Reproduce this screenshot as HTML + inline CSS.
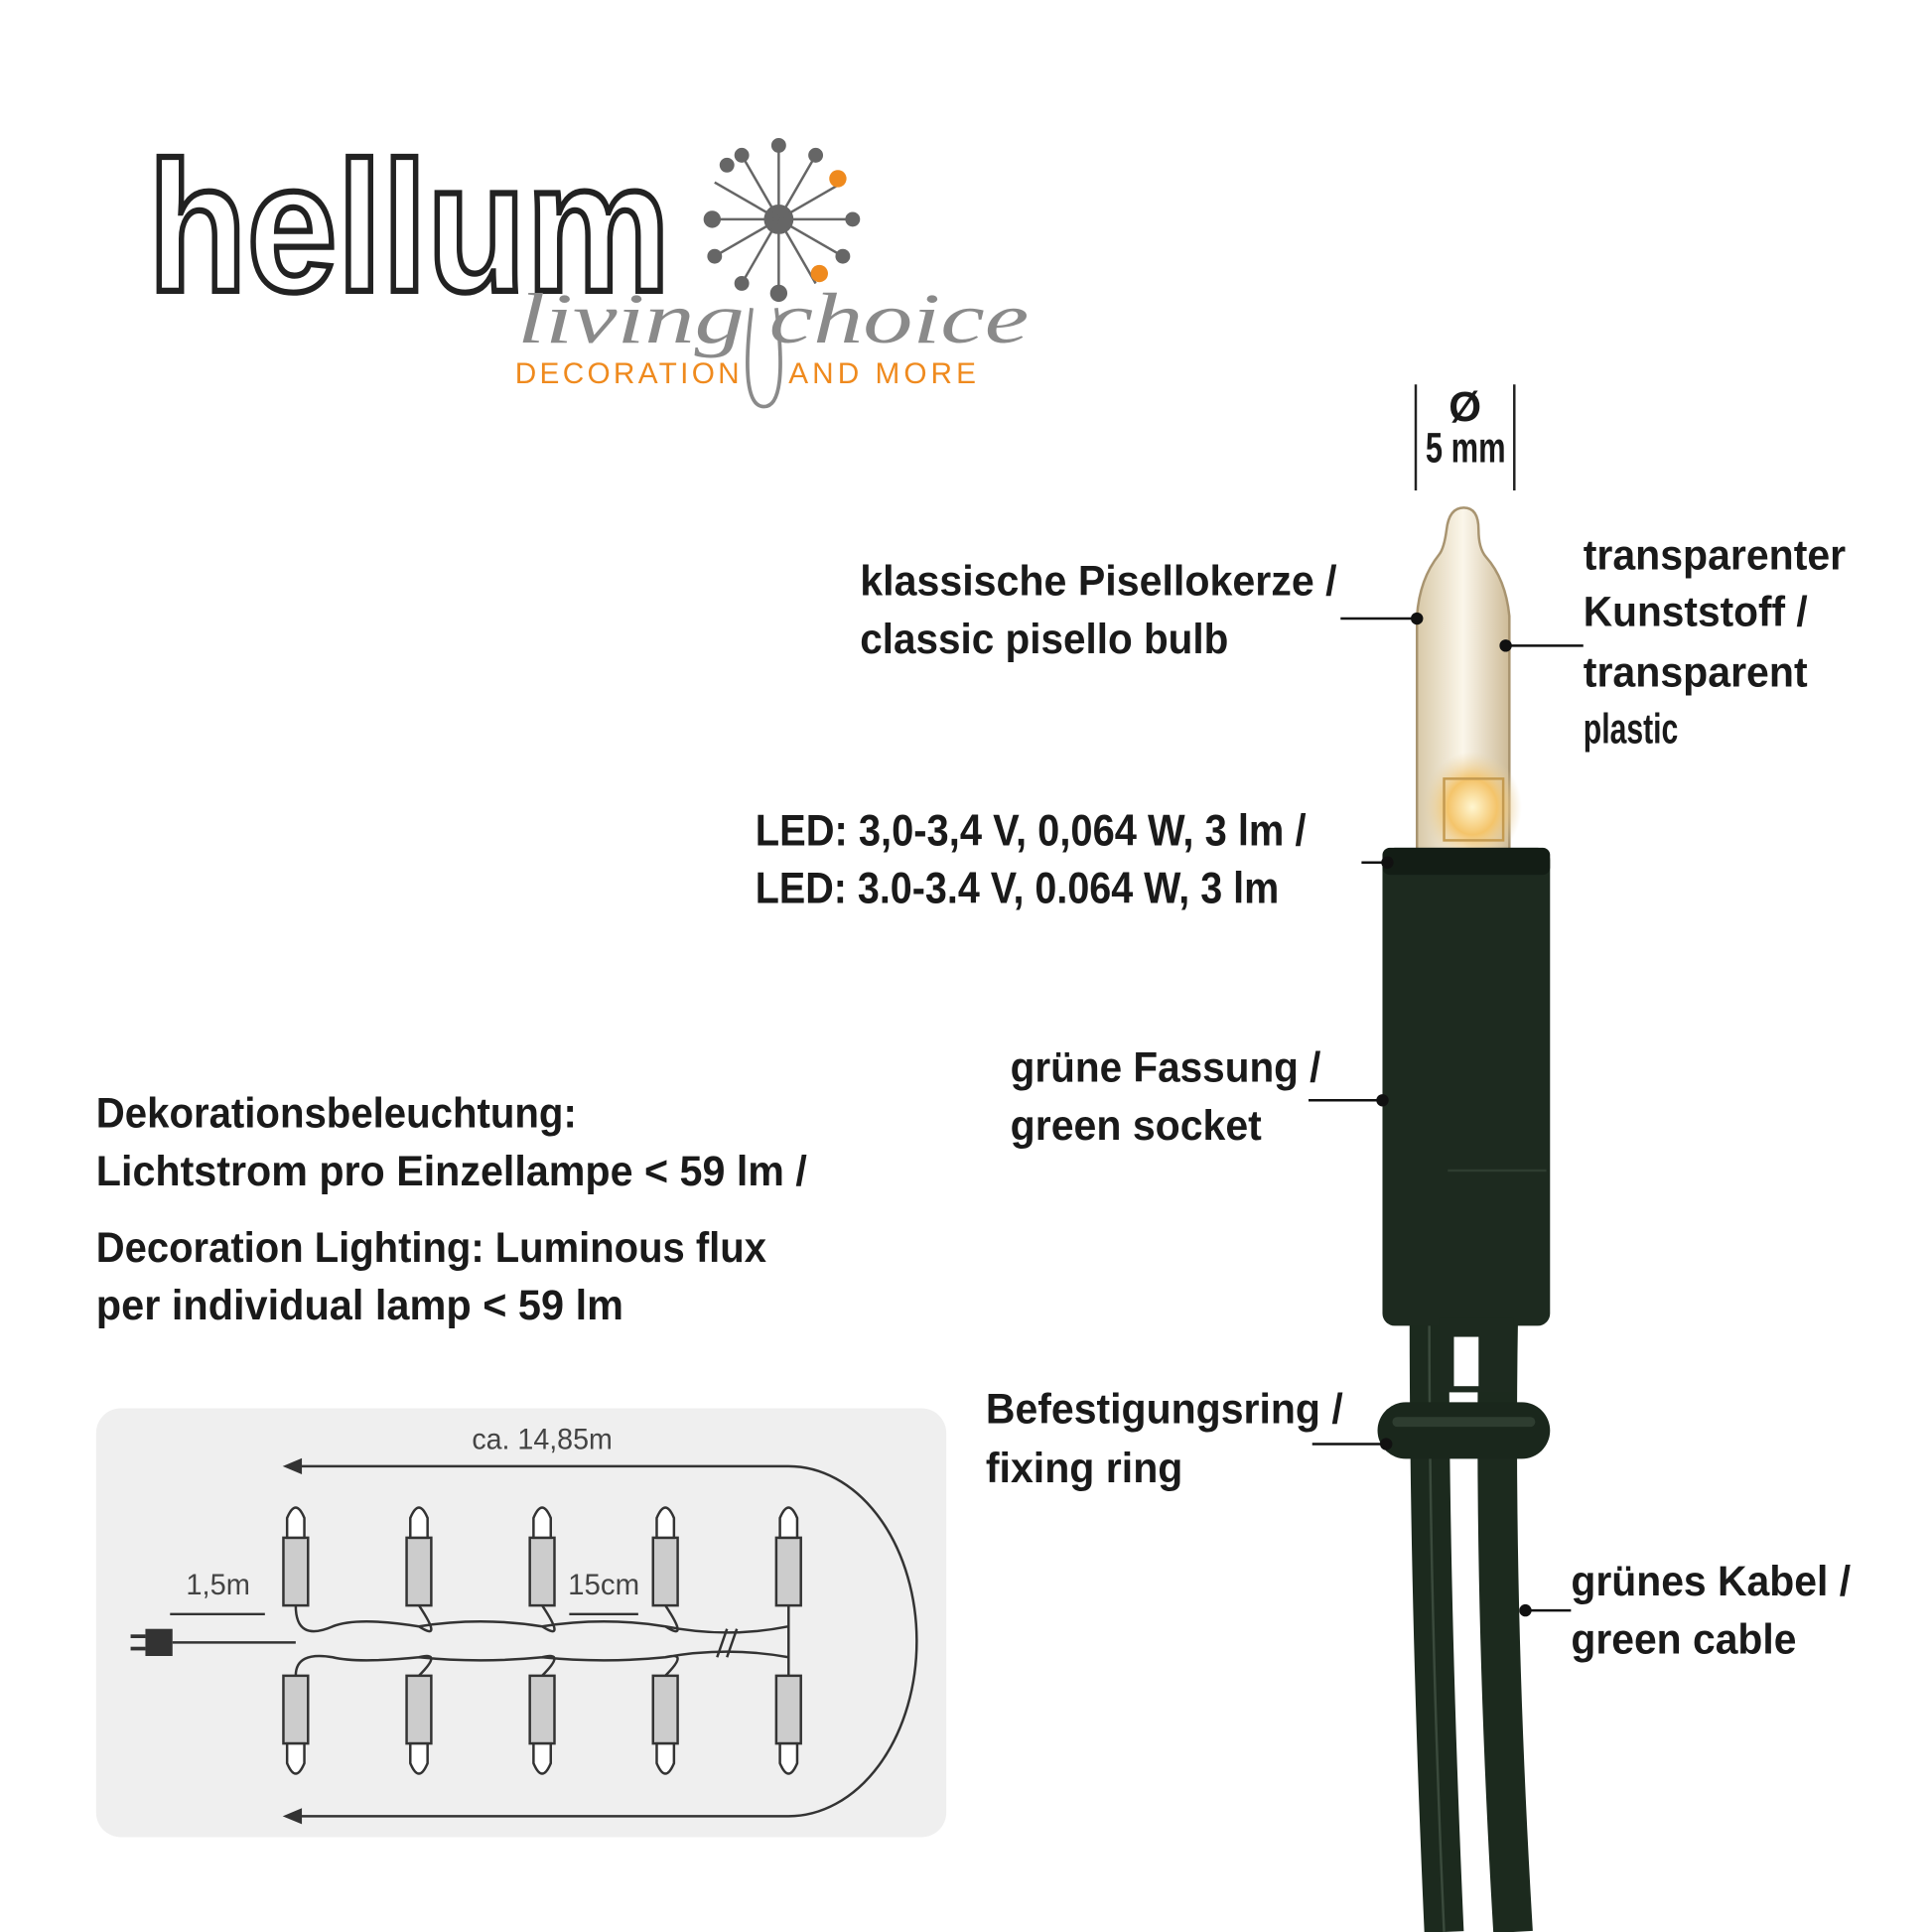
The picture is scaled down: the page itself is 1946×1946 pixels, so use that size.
<!DOCTYPE html>
<html><head><meta charset="utf-8"><style>
html,body{margin:0;padding:0;background:#fff;}
svg{display:block}
.t{font-family:"Liberation Sans Narrow","Liberation Sans",sans-serif;font-weight:bold;fill:#1a1a1a;font-size:34px}
.s{font-family:"Liberation Sans Narrow","Liberation Sans",sans-serif;fill:#444;font-size:24px}
</style></head><body>
<svg width="1946" height="1946" viewBox="0 0 1568 1568" xmlns="http://www.w3.org/2000/svg">
<defs>
<linearGradient id="g" x1="0" x2="1"><stop offset="0" stop-color="#d8c9a8"/><stop offset=".5" stop-color="#fbf6ea"/><stop offset="1" stop-color="#cdbb98"/></linearGradient>
<radialGradient id="glow" cx=".5" cy=".5" r=".5"><stop offset="0" stop-color="#fff6d0"/><stop offset=".5" stop-color="#f4c46a"/><stop offset="1" stop-color="#e8d3a8" stop-opacity="0"/></radialGradient>
</defs>
<!-- logo -->
<text x="120" y="236" font-family="Liberation Sans" font-weight="bold" font-size="150" fill="#fff" stroke="#222" stroke-width="5" textLength="424" lengthAdjust="spacingAndGlyphs">hellum</text>
<text x="420" y="278" font-family="Liberation Serif" font-style="italic" font-size="58" fill="#8a8a8a" textLength="415" lengthAdjust="spacingAndGlyphs">living choice</text>
<text x="418" y="311" font-family="Liberation Sans" font-size="24" fill="#ef8a1e" textLength="182">DECORATION</text>
<text x="640" y="311" font-family="Liberation Sans" font-size="24" fill="#ef8a1e" textLength="152">AND MORE</text>
<path d="M610 250 Q600 330 620 330 Q640 330 630 250" fill="none" stroke="#8a8a8a" stroke-width="3"/>
<g stroke="#666" stroke-width="2" fill="#666">
<circle cx="632" cy="178" r="11"/>
<line x1="632" y1="178" x2="632" y2="118"/><circle cx="632" cy="118" r="5"/>
<line x1="632" y1="178" x2="662" y2="126"/><circle cx="662" cy="126" r="5"/>
<line x1="632" y1="178" x2="684" y2="148"/><circle cx="680" cy="145" r="7" fill="#ef8a1e" stroke="none"/>
<line x1="632" y1="178" x2="692" y2="178"/><circle cx="692" cy="178" r="5"/>
<line x1="632" y1="178" x2="684" y2="208"/><circle cx="684" cy="208" r="5"/>
<line x1="632" y1="178" x2="662" y2="230"/><circle cx="665" cy="222" r="7" fill="#ef8a1e" stroke="none"/>
<line x1="632" y1="178" x2="632" y2="238"/><circle cx="632" cy="238" r="6"/>
<line x1="632" y1="178" x2="602" y2="230"/><circle cx="602" cy="230" r="5"/>
<line x1="632" y1="178" x2="580" y2="208"/><circle cx="580" cy="208" r="5"/>
<line x1="632" y1="178" x2="572" y2="178"/><circle cx="578" cy="178" r="6"/>
<line x1="632" y1="178" x2="580" y2="148"/><circle cx="590" cy="134" r="5"/>
<line x1="632" y1="178" x2="602" y2="126"/><circle cx="602" cy="126" r="5"/>
</g>
<!-- dimension -->
<line x1="1149" y1="312" x2="1149" y2="398" stroke="#222" stroke-width="2"/>
<line x1="1229" y1="312" x2="1229" y2="398" stroke="#222" stroke-width="2"/>
<text x="1189" y="342" class="t" font-size="26" text-anchor="middle">Ø</text>
<text x="1157" y="375" class="t" font-size="26" textLength="65" lengthAdjust="spacingAndGlyphs">5 mm</text>
<!-- cables -->
<path d="M1160 1070 Q1160 1300 1172 1568" fill="none" stroke="#1c2a1e" stroke-width="32"/>
<path d="M1216 1070 Q1212 1300 1228 1568" fill="none" stroke="#1c2a1e" stroke-width="32"/>
<path d="M1160 1070 Q1160 1300 1172 1568" fill="none" stroke="#3a4a3c" stroke-width="2"/>
<!-- bulb -->
<path d="M1150 690 L1150 500 Q1152 470 1168 450 Q1172 445 1174 430 Q1176 412 1188 412 Q1200 412 1200 430 Q1200 445 1206 452 Q1222 470 1225 500 L1225 690 Z" fill="url(#g)" stroke="#a89470" stroke-width="2"/>
<ellipse cx="1195" cy="655" rx="40" ry="45" fill="url(#glow)"/>
<rect x="1172" y="632" width="48" height="50" fill="none" stroke="#c49a50" stroke-width="2"/>
<!-- socket -->
<rect x="1122" y="688" width="136" height="388" rx="10" fill="#1d2a1f"/>
<rect x="1122" y="688" width="136" height="22" rx="6" fill="#131d15"/>
<line x1="1175" y1="950" x2="1255" y2="950" stroke="#2e3d30" stroke-width="2"/>
<rect x="1168" y="1070" width="60" height="60" fill="#1d2a1f"/>
<rect x="1180" y="1085" width="20" height="40" fill="#fff"/>
<!-- ring -->
<rect x="1118" y="1138" width="140" height="46" rx="23" fill="#1a271c"/>
<rect x="1130" y="1150" width="116" height="8" rx="4" fill="#2e3d30"/>
<!-- labels -->
<g class="t">
<text x="698" y="483" textLength="387" lengthAdjust="spacingAndGlyphs">klassische Pisellokerze /</text>
<text x="698" y="530" textLength="299" lengthAdjust="spacingAndGlyphs">classic pisello bulb</text>
<text x="1285" y="462" textLength="213" lengthAdjust="spacingAndGlyphs">transparenter</text>
<text x="1285" y="508" textLength="182" lengthAdjust="spacingAndGlyphs">Kunststoff /</text>
<text x="1285" y="557" textLength="182" lengthAdjust="spacingAndGlyphs">transparent</text>
<text x="1285" y="603" textLength="77" lengthAdjust="spacingAndGlyphs">plastic</text>
<text x="613" y="686" font-size="36" textLength="447" lengthAdjust="spacingAndGlyphs">LED: 3,0-3,4 V, 0,064 W, 3 lm /</text>
<text x="613" y="733" font-size="36" textLength="425" lengthAdjust="spacingAndGlyphs">LED: 3.0-3.4 V, 0.064 W, 3 lm</text>
<text x="820" y="878" textLength="252" lengthAdjust="spacingAndGlyphs">grüne Fassung /</text>
<text x="820" y="925" textLength="204" lengthAdjust="spacingAndGlyphs">green socket</text>
<text x="800" y="1155" textLength="290" lengthAdjust="spacingAndGlyphs">Befestigungsring /</text>
<text x="800" y="1203" textLength="160" lengthAdjust="spacingAndGlyphs">fixing ring</text>
<text x="1275" y="1295" textLength="227" lengthAdjust="spacingAndGlyphs">grünes Kabel /</text>
<text x="1275" y="1342" textLength="183" lengthAdjust="spacingAndGlyphs">green cable</text>
<text x="78" y="915" textLength="390" lengthAdjust="spacingAndGlyphs">Dekorationsbeleuchtung:</text>
<text x="78" y="962" textLength="577" lengthAdjust="spacingAndGlyphs">Lichtstrom pro Einzellampe &lt; 59 lm /</text>
<text x="78" y="1024" textLength="544" lengthAdjust="spacingAndGlyphs">Decoration Lighting: Luminous flux</text>
<text x="78" y="1071" textLength="428" lengthAdjust="spacingAndGlyphs">per individual lamp &lt; 59 lm</text>
</g>
<g stroke="#111" stroke-width="2" fill="#111">
<line x1="1088" y1="502" x2="1150" y2="502"/><circle cx="1150" cy="502" r="4"/>
<line x1="1222" y1="524" x2="1285" y2="524"/><circle cx="1222" cy="524" r="4"/>
<line x1="1105" y1="700" x2="1126" y2="700"/><circle cx="1126" cy="700" r="4"/>
<line x1="1062" y1="893" x2="1122" y2="893"/><circle cx="1122" cy="893" r="4"/>
<line x1="1065" y1="1172" x2="1125" y2="1172"/><circle cx="1125" cy="1172" r="4"/>
<line x1="1238" y1="1307" x2="1275" y2="1307"/><circle cx="1238" cy="1307" r="4"/>
</g>
<!-- diagram box -->
<rect x="78" y="1143" width="690" height="348" rx="20" fill="#efefef"/>
<text x="440" y="1176" class="s" text-anchor="middle" textLength="114" lengthAdjust="spacingAndGlyphs">ca. 14,85m</text>
<g fill="none" stroke="#333" stroke-width="2">
<path d="M232 1190 L640 1190 A104 142 0 0 1 640 1474 L232 1474"/>
<path d="M232 1190 l12 -5 v10 z M232 1474 l12 -5 v10 z" fill="#333"/>
<path d="M140 1333 L240 1333 M640 1303 V1360"/>
<path d="M240 1303 Q240 1333 270 1320 Q290 1312 340 1320 Q360 1333 340 1303 M340 1320 Q390 1312 440 1320 Q460 1333 440 1303 M440 1320 Q490 1312 540 1320 Q560 1333 540 1303 M540 1320 Q590 1330 640 1320"/>
<path d="M240 1360 Q240 1340 270 1345 Q290 1350 340 1345 Q360 1340 340 1360 M340 1345 Q390 1350 440 1345 Q460 1340 440 1360 M440 1345 Q490 1350 540 1345 Q560 1340 540 1360 M540 1345 Q590 1336 640 1345"/>
<line x1="582" y1="1345" x2="590" y2="1322"/><line x1="590" y1="1345" x2="598" y2="1322"/>
<line x1="138" y1="1310" x2="215" y2="1310"/><line x1="462" y1="1310" x2="518" y2="1310"/>
</g>
<g fill="#ccc" stroke="#333" stroke-width="2">
<rect x="230" y="1248" width="20" height="55"/><rect x="330" y="1248" width="20" height="55"/><rect x="430" y="1248" width="20" height="55"/><rect x="530" y="1248" width="20" height="55"/><rect x="630" y="1248" width="20" height="55"/>
<rect x="230" y="1360" width="20" height="55"/><rect x="330" y="1360" width="20" height="55"/><rect x="430" y="1360" width="20" height="55"/><rect x="530" y="1360" width="20" height="55"/><rect x="630" y="1360" width="20" height="55"/>
</g>
<g fill="#fff" stroke="#333" stroke-width="2">
<path d="M233 1248 L233 1232 Q240 1215 247 1232 L247 1248 Z M333 1248 L333 1232 Q340 1215 347 1232 L347 1248 Z M433 1248 L433 1232 Q440 1215 447 1232 L447 1248 Z M533 1248 L533 1232 Q540 1215 547 1232 L547 1248 Z M633 1248 L633 1232 Q640 1215 647 1232 L647 1248 Z"/>
<path d="M233 1415 L233 1431 Q240 1448 247 1431 L247 1415 Z M333 1415 L333 1431 Q340 1448 347 1431 L347 1415 Z M433 1415 L433 1431 Q440 1448 447 1431 L447 1415 Z M533 1415 L533 1431 Q540 1448 547 1431 L547 1415 Z M633 1415 L633 1431 Q640 1448 647 1431 L647 1415 Z"/>
</g>
<rect x="118" y="1322" width="22" height="22" fill="#333"/>
<line x1="106" y1="1328" x2="118" y2="1328" stroke="#333" stroke-width="3"/><line x1="106" y1="1338" x2="118" y2="1338" stroke="#333" stroke-width="3"/>
<text x="177" y="1294" class="s" text-anchor="middle" textLength="52" lengthAdjust="spacingAndGlyphs">1,5m</text>
<text x="490" y="1294" class="s" text-anchor="middle" textLength="58" lengthAdjust="spacingAndGlyphs">15cm</text>
</svg>
</body></html>
